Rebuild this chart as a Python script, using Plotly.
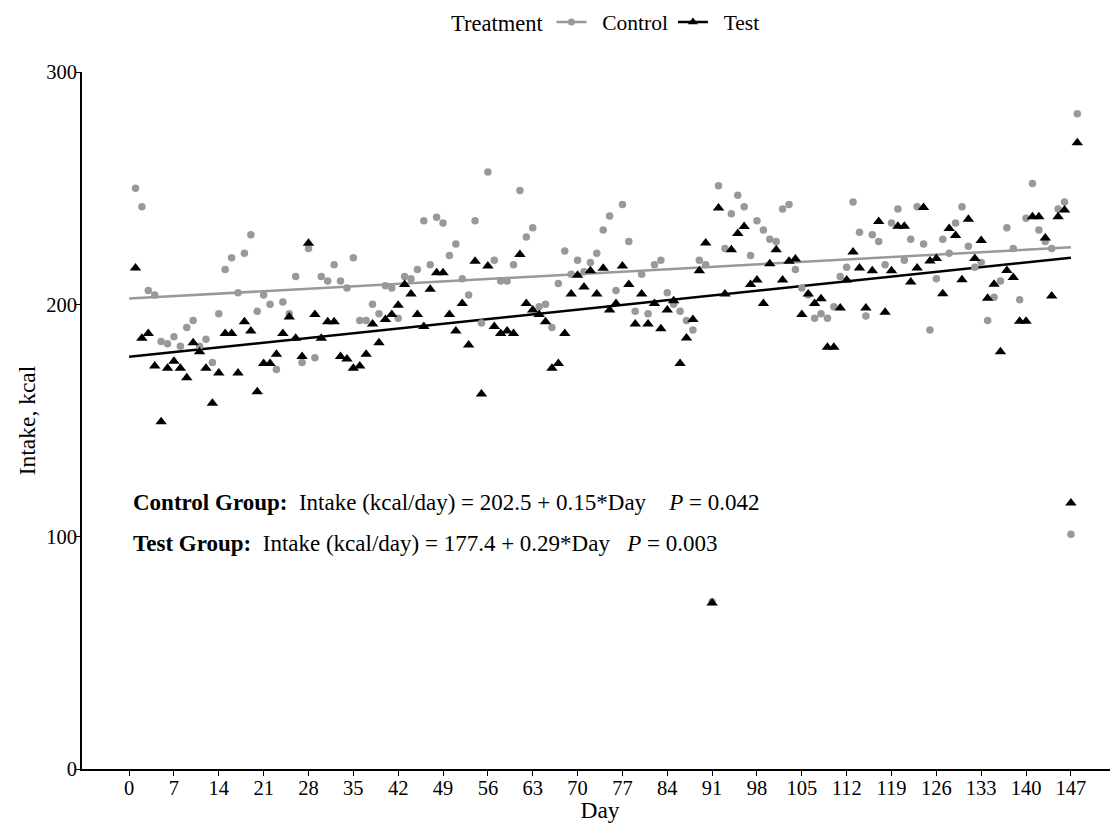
import plotly.graph_objects as go

days = list(range(1, 149))

control = [250, 242, 206, 204, 184, 183, 186, 182, 190, 193,
           182, 185, 175, 196, 215, 220, 205, 222, 230, 197,
           204, 200, 172, 201, 196, 212, 175, 224, 177, 212,
           210, 217, 210, 207, 220, 193, 193, 200, 196, 208,
           207, 194, 212, 211, 215, 236, 217, 237.5, 235, 221,
           226, 211, 204, 236, 192, 257, 219, 210, 210, 217,
           249, 229, 233, 199, 200, 190, 209, 223, 213, 219,
           214, 218, 222, 232, 238, 206, 243, 227, 197, 213,
           196, 217, 219, 205, 200, 197, 193, 189, 219, 217,
           72, 251, 224, 239, 247, 242, 221, 236, 232, 228,
           227, 241, 243, 215, 207, 204, 194, 196, 194, 199,
           212, 216, 244, 231, 195, 230, 227, 217, 235, 241,
           219, 228, 242, 226, 189, 211, 228, 222, 235, 242,
           225, 216, 218, 193, 203, 210, 233, 224, 202, 237,
           252, 232, 227, 224, 241, 244, 101, 282]

test = [215.6, 185.4, 187.5, 173.5, 149.5, 172.5, 175.5, 172.5, 168.4, 183.5,
        179.6, 172.5, 157.4, 170.4, 187.5, 187.5, 170.4, 192.5, 188.5, 162.4,
        174.5, 174.5, 178.5, 187.5, 194.5, 185.4, 177.5, 226.3, 195.6, 185.4,
        192.5, 192.5, 177.5, 176.5, 172.5, 173.5, 178.5, 191.5, 183.5, 193.5,
        195.6, 199.6, 208.5, 204.4, 195.6, 190.5, 206.5, 213.6, 213.6, 195.6,
        188.5, 200.4, 182.5, 218.5, 161.4, 216.5, 190.5, 187.5, 188.5, 187.5,
        221.5, 200.4, 197.6, 195.6, 192.5, 172.5, 174.5, 187.5, 204.4, 212.5,
        207.5, 214.5, 204.4, 215.5, 197.6, 200.4, 216.5, 208.5, 191.5, 204.4,
        191.5, 200.4, 189.5, 197.6, 201.5, 174.5, 185.5, 193.5, 214.5, 226.4,
        71.5, 241.5, 204.4, 223.5, 230.5, 233.5, 208.5, 210.5, 200.4, 217.5,
        223.5, 210.5, 218.5, 219.5, 195.6, 204.4, 200.4, 202.4, 181.5, 181.5,
        198.4, 210.5, 222.5, 215.6, 198.4, 214.5, 235.6, 196.6, 214.5, 233.6,
        233.6, 209.6, 215.6, 241.7, 218.6, 219.7, 204.6, 232.6, 229.6, 210.6,
        236.6, 219.7, 227.5, 202.6, 208.6, 179.6, 214.6, 211.6, 192.7, 192.7,
        237.7, 237.7, 228.6, 203.6, 237.7, 240.6, 114.5, 269.6]

fit_days = [0, 147]
control_fit = {"intercept": 202.5, "slope": 0.15}
test_fit = {"intercept": 177.4, "slope": 0.29}

x_ticks = list(range(0, 148, 7))
y_ticks = [0, 100, 200, 300]

GRAY = "#999999"
BLACK = "#000000"
FONT = "Liberation Serif"
NB = "\u00a0"

fig = go.Figure()

# regression lines
fig.add_trace(go.Scatter(
    x=fit_days,
    y=[control_fit["intercept"] + control_fit["slope"] * d for d in fit_days],
    mode="lines", line=dict(color=GRAY, width=2.5), showlegend=False, hoverinfo="skip"))
fig.add_trace(go.Scatter(
    x=fit_days,
    y=[test_fit["intercept"] + test_fit["slope"] * d for d in fit_days],
    mode="lines", line=dict(color=BLACK, width=2.5), showlegend=False, hoverinfo="skip"))

# points
fig.add_trace(go.Scatter(
    x=days, y=control, mode="markers",
    marker=dict(symbol="circle", size=7.5, color=GRAY, line=dict(width=0)),
    showlegend=False, name="Control"))
fig.add_trace(go.Scatter(
    x=days, y=test, mode="markers",
    marker=dict(symbol="triangle-up", size=10, color=BLACK, line=dict(width=0)),
    showlegend=False, name="Test"))

# legend entries
fig.add_trace(go.Scatter(
    x=[None], y=[None], mode="lines+markers", name=NB * 2 + "Control",
    line=dict(color=GRAY, width=2.5),
    marker=dict(symbol="circle", size=7, color=GRAY)))
fig.add_trace(go.Scatter(
    x=[None], y=[None], mode="lines+markers", name=NB * 2 + "Test",
    line=dict(color=BLACK, width=2.5),
    marker=dict(symbol="triangle-up", size=9, color=BLACK)))

ann_font = dict(family=FONT, size=23, color="black")
fig.add_annotation(
    x=0.3, y=114.5, xref="x", yref="y", xanchor="left", yanchor="middle",
    showarrow=False, font=ann_font,
    text="<b>Control Group:</b>" + NB * 2 + "Intake (kcal/day) = 202.5 + 0.15*Day" + NB * 4 + "<i>P</i> = 0.042")
fig.add_annotation(
    x=0.3, y=96.9, xref="x", yref="y", xanchor="left", yanchor="middle",
    showarrow=False, font=ann_font,
    text="<b>Test Group:</b>" + NB * 2 + "Intake (kcal/day) = 177.4 + 0.29*Day" + NB * 3 + "<i>P</i> = 0.003")

fig.update_layout(
    width=1110, height=815,
    margin=dict(l=74, r=0, t=64, b=54, autoexpand=False),
    paper_bgcolor="white", plot_bgcolor="white",
    font=dict(family=FONT, size=20, color="black"),
    showlegend=True,
    legend=dict(
        orientation="h", xref="paper", yref="paper",
        x=0.5068, xanchor="center", y=1.0717, yanchor="middle",
        title=dict(text="Treatment", font=dict(family=FONT, size=22.5)),
        font=dict(family=FONT, size=21.5), itemwidth=30,
        bgcolor="rgba(0,0,0,0)"),
    xaxis=dict(
        range=[-7.35, 154.35], tickvals=x_ticks, ticktext=[str(t) for t in x_ticks],
        showgrid=False, zeroline=False, showline=True, linecolor="black", linewidth=1.6,
        ticks="outside", ticklen=5, tickwidth=1.3, tickcolor="black",
        ticklabelstandoff=-5,
        tickfont=dict(family=FONT, size=20.5),
        title=dict(text="Day", font=dict(family=FONT, size=23.5), standoff=2)),
    yaxis=dict(
        range=[0, 300], tickvals=y_ticks,
        showgrid=False, zeroline=False, showline=True, linecolor="black", linewidth=1.6,
        ticks="outside", ticklen=5, tickwidth=1.3, tickcolor="black",
        ticklabelstandoff=-6,
        tickfont=dict(family=FONT, size=20.5),
        title=dict(text="Intake, kcal", font=dict(family=FONT, size=23.5), standoff=4)),
)

fig.write_html("out.html")
